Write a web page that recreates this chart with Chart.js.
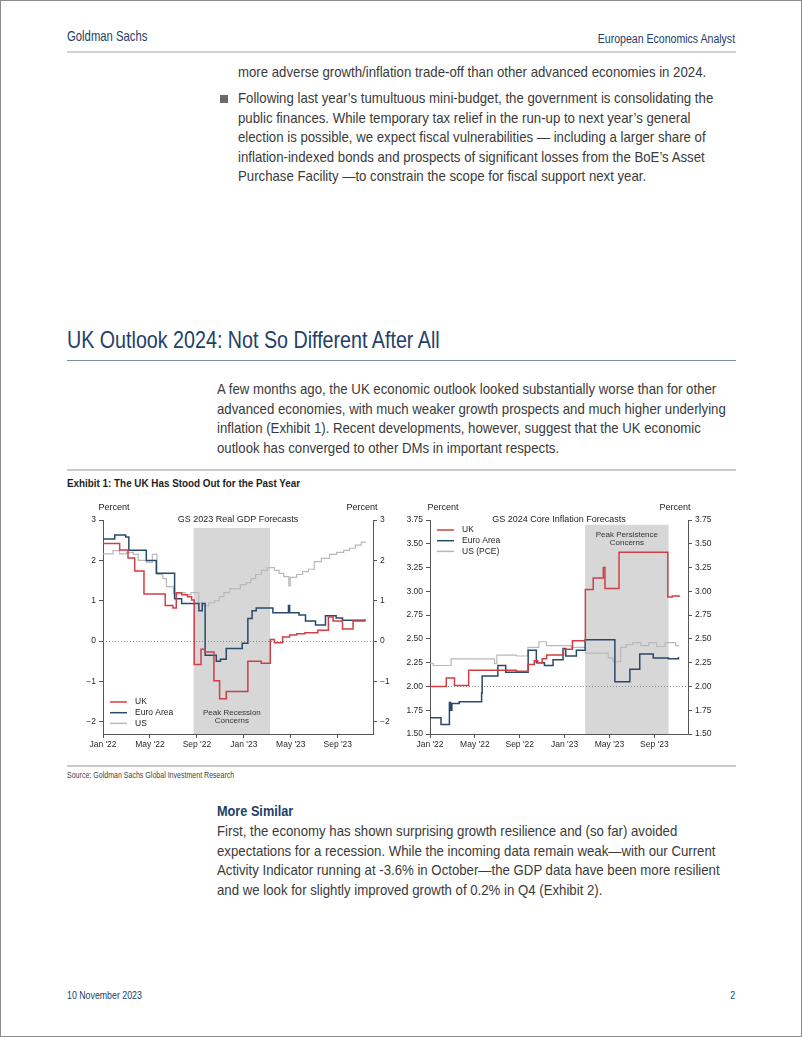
<!DOCTYPE html>
<html>
<head>
<meta charset="utf-8">
<script src="https://cdn.jsdelivr.net/npm/chart.js@4.4.0/dist/chart.umd.min.js"></script>
<style>
html,body{margin:0;padding:0;background:#fff;}
#page{position:relative;width:802px;height:1037px;box-sizing:border-box;border:1px solid #8c8c8c;overflow:hidden;
  font-family:'Liberation Sans Narrow','Liberation Sans',Arial,sans-serif;}
.abs{position:absolute;white-space:nowrap;transform-origin:0 0;}
.absr{position:absolute;white-space:nowrap;transform-origin:100% 0;}
.rule{position:absolute;left:66px;width:669px;}
.txt{font-size:14.6px;line-height:19.6px;color:#3a3a3a;transform:scaleX(0.905);}
.navy{color:#22406a;}
.box{position:absolute;}
</style>
</head>
<body>
<div id="page">
  <div class="abs navy" style="left:66px;top:27px;font-size:14.5px;line-height:17px;transform:scaleX(0.78);">Goldman Sachs</div>
  <div class="absr navy" style="right:66px;top:30px;font-size:12px;line-height:16px;transform:scaleX(0.88);">European Economics Analyst</div>
  <div class="rule" style="top:50px;height:2px;background:#d2d2d2;"></div>

  <div class="abs txt" style="left:237px;top:62px;">more adverse growth/inflation trade-off than other advanced economies in 2024.</div>
  <div class="abs" style="left:219px;top:94px;width:8px;height:8px;background:#6b6b6b;"></div>
  <div class="abs txt" style="left:237px;top:88px;">Following last year’s tumultuous mini-budget, the government is consolidating the<br>public finances. While temporary tax relief in the run-up to next year’s general<br>election is possible, we expect fiscal vulnerabilities — including a larger share of<br>inflation-indexed bonds and prospects of significant losses from the BoE’s Asset<br>Purchase Facility —to constrain the scope for fiscal support next year.</div>

  <div class="abs navy" style="left:66px;top:325px;font-size:24px;line-height:28px;transform:scaleX(0.82);">UK Outlook 2024: Not So Different After All</div>
  <div class="rule" style="top:359px;height:1px;background:#7d8da3;"></div>

  <div class="abs txt" style="left:216px;top:379px;">A few months ago, the UK economic outlook looked substantially worse than for other<br>advanced economies, with much weaker growth prospects and much higher underlying<br>inflation (Exhibit 1). Recent developments, however, suggest that the UK economic<br>outlook has converged to other DMs in important respects.</div>

  <div class="rule" style="top:468px;height:1.5px;background:#c9c9c9;"></div>
  <div class="abs" style="left:66px;top:475px;font-size:11.5px;line-height:14px;font-weight:bold;color:#1e1e1e;transform:scaleX(0.857);">Exhibit 1: The UK Has Stood Out for the Past Year</div>

  <div class="box" style="left:59px;top:496px;width:335px;height:256px;"><canvas id="gdpChart"></canvas></div>
  <div class="box" style="left:392px;top:496px;width:322px;height:256px;"><canvas id="coreChart"></canvas></div>

  <div class="rule" style="top:764px;height:1.5px;background:#c9c9c9;"></div>
  <div class="abs" style="left:66px;top:769px;font-size:8.6px;line-height:11px;color:#444;transform:scaleX(0.82);">Source: Goldman Sachs Global Investment Research</div>

  <div class="abs navy" style="left:216px;top:801px;font-size:15.5px;line-height:18px;font-weight:bold;transform:scaleX(0.82);">More Similar</div>
  <div class="abs txt" style="left:216px;top:821px;">First, the economy has shown surprising growth resilience and (so far) avoided<br>expectations for a recession. While the incoming data remain weak—with our Current<br>Activity Indicator running at -3.6% in October—the GDP data have been more resilient<br>and we look for slightly improved growth of 0.2% in Q4 (Exhibit 2).</div>

  <div class="abs navy" style="left:66px;top:987px;font-size:11px;line-height:14px;transform:scaleX(0.8);">10 November 2023</div>
  <div class="absr navy" style="right:66px;top:987px;font-size:11px;line-height:14px;transform:scaleX(0.8);">2</div>
</div>

<script>
// x positions are months since Jan 2022
var monthTicks = [0, 4, 8, 12, 16, 20];
var monthLabels = ["Jan '22", "May '22", "Sep '22", "Jan '23", "May '23", "Sep '23"];

// GS 2023 real GDP forecasts (step points)
var ukGdpMonths = [0, 1.42, 2.13, 2.7, 3.49, 5.3, 5.96, 6.24, 6.7, 7.2, 7.55, 7.77, 8.35, 8.7, 9.45, 9.93, 10.5, 12.34, 13.48, 14.25, 14.6, 15.3, 15.9, 16.5, 17.2, 18.3, 19.2, 19.6, 20.4, 21.3, 22.3];
var ukGdp       = [2.42, 2.26, 2.06, 1.74, 1.17, 0.88, 0.82, 1.2, 1.15, 1.1, 1.02, -0.58, -0.2, -0.27, -0.98, -1.43, -1.25, -0.5, -0.55, 0.04, -0.04, 0.1, 0.15, 0.18, 0.21, 0.27, 0.6, 0.5, 0.3, 0.5, 0.55];
var euGdpMonths = [0, 1.0, 1.93, 2.2, 3.69, 4.54, 6.1, 6.7, 8.17, 8.45, 8.7, 9.65, 10.0, 10.5, 11.86, 12.34, 12.7, 13.05, 14.47, 15.8, 15.9, 16.7, 17.25, 18.1, 18.95, 19.86, 20.4, 22.3];
var euGdp       = [2.53, 2.63, 2.58, 2.25, 2.0, 1.68, 1.05, 0.93, 0.75, 0.93, -0.35, -0.5, -0.45, -0.18, -0.05, 0.56, 0.75, 0.82, 0.7, 0.88, 0.7, 0.65, 0.5, 0.4, 0.63, 0.57, 0.52, 0.5];
var usGdpMonths = [0, 0.85, 1.42, 2.0, 2.6, 3.0, 3.7, 4.2, 4.6, 5.1, 5.4, 6.0, 6.5, 7.0, 7.5, 8.15, 8.5, 9.0, 9.5, 9.9, 10.3, 10.8, 11.3, 11.7, 12.2, 12.6, 13.0, 13.5, 14.0, 14.6, 15.0, 15.4, 15.83, 15.95, 16.5, 17.0, 17.5, 18.0, 18.6, 19.3, 19.9, 20.5, 21.0, 21.5, 22.0, 22.4];
var usGdp       = [2.16, 2.24, 2.16, 2.2, 2.15, 2.0, 1.95, 2.15, 1.65, 1.55, 1.35, 1.17, 1.2, 1.15, 1.2, 0.95, 0.88, 0.95, 1.0, 1.1, 1.2, 1.3, 1.3, 1.4, 1.45, 1.55, 1.65, 1.75, 1.82, 1.75, 1.68, 1.6, 1.37, 1.58, 1.65, 1.72, 1.78, 1.97, 2.05, 2.15, 2.2, 2.25, 2.3, 2.38, 2.45, 2.45];
var gdpTicks = [-2, -1, 0, 1, 2, 3];
var gdpShade = [7.72, 14.24];

// GS 2024 core inflation forecasts (step points)
var ukCoreMonths = [0, 1.45, 2.18, 3.45, 7.7, 8.75, 9.3, 9.6, 10.0, 10.4, 11.9, 12.7, 13.85, 14.55, 15.45, 15.6, 16.85, 21.2, 21.6, 22.2];
var ukCore       = [2.0, 2.09, 2.01, 2.17, 2.16, 2.23, 2.27, 2.25, 2.29, 2.33, 2.39, 2.48, 3.02, 3.14, 3.25, 3.03, 3.41, 2.94, 2.95, 2.94];
var euCoreMonths = [0, 0.98, 1.73, 1.83, 1.95, 2.6, 4.6, 4.65, 6.05, 6.75, 8.75, 9.48, 10.2, 10.97, 11.86, 12.1, 13.05, 13.83, 16.48, 17.82, 18.7, 19.9, 21.25, 22.15];
var euCore       = [1.67, 1.6, 1.83, 1.75, 1.82, 1.84, 1.93, 2.11, 2.22, 2.15, 2.38, 2.25, 2.22, 2.28, 2.4, 2.32, 2.38, 2.49, 2.05, 2.18, 2.34, 2.3, 2.29, 2.31];
var usCoreMonths = [0, 0.3, 1.88, 5.75, 5.96, 7.7, 8.73, 9.71, 10.37, 12.6, 13.86, 15.9, 16.3, 17.0, 17.5, 18.07, 18.8, 19.5, 20.2, 20.96, 21.9, 22.2];
var usCore       = [2.24, 2.22, 2.29, 2.24, 2.33, 2.32, 2.41, 2.47, 2.43, 2.41, 2.35, 2.30, 2.26, 2.41, 2.44, 2.46, 2.43, 2.46, 2.42, 2.46, 2.43, 2.43];
var coreTicks = [1.5, 1.75, 2.0, 2.25, 2.5, 2.75, 3.0, 3.25, 3.5, 3.75];
var coreShade = [13.83, 21.27];

var RED = '#cf3f45', BLUE = '#29496b', GREY = '#b9b9b9', AXIS = '#555';
Chart.defaults.font.family = "'Liberation Sans', Arial, sans-serif";
Chart.defaults.color = '#2a2a2a';

function steps(xs, ys){
    return xs.map(function(x, i){ return {x: x, y: ys[i]}; });
}

var overlay = {
    id: 'overlay',
    beforeDatasetsDraw: function(chart, args, o){
        var ctx = chart.ctx, a = chart.chartArea, xs = chart.scales.x, ys = chart.scales.y;
        ctx.save();
        var x0 = xs.getPixelForValue(o.shade[0]), x1 = xs.getPixelForValue(o.shade[1]);
        var top = ys.getPixelForValue(o.shadeTop);
        ctx.fillStyle = '#d7d7d7';
        ctx.fillRect(x0, top, x1 - x0, a.bottom - top);
        var yr = ys.getPixelForValue(o.refLine);
        ctx.strokeStyle = '#8a8a8a';
        ctx.lineWidth = 1;
        ctx.setLineDash([1, 2]);
        ctx.beginPath();
        ctx.moveTo(a.left, Math.round(yr) + 0.5);
        ctx.lineTo(a.right, Math.round(yr) + 0.5);
        ctx.stroke();
        ctx.setLineDash([]);
        ctx.fillStyle = '#333';
        ctx.font = "8px 'Liberation Sans', Arial, sans-serif";
        ctx.textAlign = 'center';
        ctx.textBaseline = 'middle';
        var cx = (x0 + x1) / 2;
        o.shadeText.forEach(function(t, i){
            ctx.fillText(t, cx, ys.getPixelForValue(o.shadeTextY) + i * 8);
        });
        ctx.restore();
    },
    afterDraw: function(chart, args, o){
        var ctx = chart.ctx, a = chart.chartArea;
        ctx.save();
        ctx.fillStyle = '#222';
        ctx.textBaseline = 'middle';
        ctx.textAlign = 'center';
        ctx.font = "9px 'Liberation Sans', Arial, sans-serif";
        ctx.fillText(o.title, (a.left + a.right) / 2, a.top);
        ctx.fillText('Percent', a.left + o.pctOffset, 11);
        ctx.fillText('Percent', a.right - o.pctOffset, 11);
        ctx.textAlign = 'left';
        ctx.font = "8.5px 'Liberation Sans', Arial, sans-serif";
        chart.data.datasets.forEach(function(ds, i){
            var y = o.legendY + i * o.legendGap;
            ctx.strokeStyle = ds.borderColor;
            ctx.lineWidth = 1.5;
            ctx.beginPath();
            ctx.moveTo(a.left + 7, y);
            ctx.lineTo(a.left + 24, y);
            ctx.stroke();
            ctx.fillStyle = '#222';
            ctx.fillText(ds.label, a.left + 32, y);
        });
        ctx.restore();
    }
};

function yAxis(pos, min, max, ticks, width, fmt){
    return {
        type: 'linear', position: pos, min: min, max: max,
        afterBuildTicks: function(s){ s.ticks = ticks.map(function(v){ return {value: v}; }); },
        afterFit: function(s){ s.width = width; },
        border: {display: true, color: AXIS, width: 1},
        grid: {drawOnChartArea: false, drawTicks: true, tickLength: 4, tickColor: AXIS},
        ticks: {font: {size: 8.5}, padding: 3, color: '#2a2a2a', callback: fmt}
    };
}

function xAxis(){
    return {
        type: 'linear', min: 0, max: 23,
        afterBuildTicks: function(s){ s.ticks = monthTicks.map(function(v){ return {value: v}; }); },
        afterFit: function(s){ s.height = 19; },
        border: {display: true, color: AXIS, width: 1},
        grid: {drawOnChartArea: false, drawTicks: true, tickLength: 4, tickColor: AXIS},
        ticks: {font: {size: 8.5}, padding: 2, maxRotation: 0, autoSkip: false, color: '#2a2a2a',
            callback: function(v){ return monthLabels[monthTicks.indexOf(v)]; }}
    };
}

function line(label, color, data, w){
    return {label: label, data: data, borderColor: color, backgroundColor: color, borderWidth: w,
        stepped: true, pointRadius: 0, fill: false, tension: 0};
}

function minusFmt(v){ return v < 0 ? '\u2212' + Math.abs(v) : String(v); }
function twoFmt(v){ return v.toFixed(2); }

new Chart(document.getElementById('gdpChart'), {
    type: 'line',
    data: {datasets: [
        line('UK', RED, steps(ukGdpMonths, ukGdp), 1.5),
        line('Euro Area', BLUE, steps(euGdpMonths, euGdp), 1.5),
        line('US', GREY, steps(usGdpMonths, usGdp), 1.2)
    ]},
    options: {
        responsive: true, maintainAspectRatio: false, animation: false,
        layout: {padding: {top: 23, left: 0, right: 0, bottom: 0}},
        scales: {
            x: xAxis(),
            y: yAxis('left', -2.3, 3, gdpTicks, 43, minusFmt),
            y2: yAxis('right', -2.3, 3, gdpTicks, 22, minusFmt)
        },
        plugins: {
            legend: {display: false}, tooltip: {enabled: false},
            overlay: {shade: gdpShade, shadeTop: 2.8, refLine: 0, shadeText: ['Peak Recession', 'Concerns'], shadeTextY: -1.78,
                title: 'GS 2023 Real GDP Forecasts', pctOffset: 11, legendY: 205, legendGap: 10.7}
        }
    },
    plugins: [overlay]
});

new Chart(document.getElementById('coreChart'), {
    type: 'line',
    data: {datasets: [
        line('UK', RED, steps(ukCoreMonths, ukCore), 1.5),
        line('Euro Area', BLUE, steps(euCoreMonths, euCore), 1.5),
        line('US (PCE)', GREY, steps(usCoreMonths, usCore), 1.2)
    ]},
    options: {
        responsive: true, maintainAspectRatio: false, animation: false,
        layout: {padding: {top: 23, left: 0, right: 0, bottom: 0}},
        scales: {
            x: xAxis(),
            y: yAxis('left', 1.5, 3.75, coreTicks, 37, twoFmt),
            y2: yAxis('right', 1.5, 3.75, coreTicks, 27, twoFmt)
        },
        plugins: {
            legend: {display: false}, tooltip: {enabled: false},
            overlay: {shade: coreShade, shadeTop: 3.70, refLine: 2.0, shadeText: ['Peak Persistence', 'Concerns'], shadeTextY: 3.59,
                title: 'GS 2024 Core Inflation Forecasts', pctOffset: 13, legendY: 33, legendGap: 10.7}
        }
    },
    plugins: [overlay]
});
</script>
</body>
</html>
